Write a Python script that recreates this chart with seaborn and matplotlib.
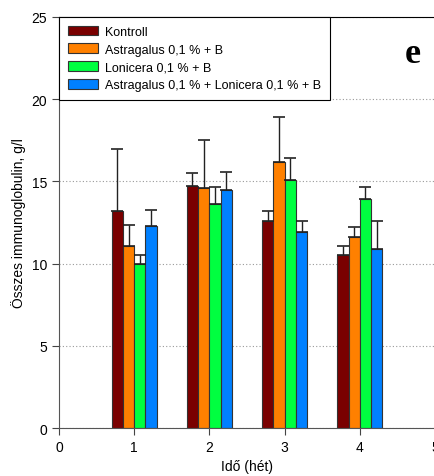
import numpy as np
import pandas as pd
import matplotlib.pyplot as plt
import seaborn as sns

# data
weeks = [1, 2, 3, 4]
groups = ['Kontroll', 'Astragalus 0,1 % + B', 'Lonicera 0,1 % + B',
          'Astragalus 0,1 % + Lonicera 0,1 % + B']
kontroll = [13.2, 14.7, 12.6, 10.5]
astragalus = [11.1, 14.6, 16.2, 11.6]
lonicera = [10.0, 13.6, 15.1, 13.9]
combo = [12.3, 14.5, 11.9, 10.9]
kontroll_err = [3.75, 0.83, 0.6, 0.6]
astragalus_err = [1.25, 2.9, 2.7, 0.63]
lonicera_err = [0.55, 1.05, 1.3, 0.77]
combo_err = [0.97, 1.05, 0.7, 1.7]
colors = ['#7a0000', '#ff8000', '#00ff40', '#0080ff']

values = [kontroll, astragalus, lonicera, combo]
errors = [kontroll_err, astragalus_err, lonicera_err, combo_err]

rows = []
for g, vals in zip(groups, values):
    for w, v in zip(weeks, vals):
        rows.append((w, g, v))
df = pd.DataFrame(rows, columns=['week', 'group', 'value'])

plt.rcParams['font.family'] = ['Liberation Sans', 'DejaVu Sans']

fig = plt.figure(figsize=(4.35, 4.77), dpi=100)
ax = fig.add_axes([0.1356, 0.1006, 0.8644, 0.8617])

sns.barplot(data=df, x='week', y='value', hue='group', hue_order=groups,
            palette=colors, native_scale=True, width=0.6, errorbar=None,
            edgecolor='#333333', linewidth=0.8, saturation=1, ax=ax, zorder=2)

# one-sided error bars
for cont, err in zip(ax.containers, errors):
    xs = [b.get_x() + b.get_width() / 2 for b in cont]
    ys = [b.get_height() for b in cont]
    ax.errorbar(xs, ys, yerr=[np.zeros(len(err)), err], fmt='none',
                ecolor='#222222', elinewidth=1.0, capsize=4, capthick=1.2,
                zorder=3)

ax.set_xlim(0, 5)
ax.set_ylim(0, 25)
ax.set_xticks([0, 1, 2, 3, 4, 5])
ax.set_yticks([0, 5, 10, 15, 20, 25])
ax.tick_params(labelsize=10, direction='out', length=5, color='#444444')
ax.yaxis.grid(True, linestyle=(0, (1, 2)), color='#999999', linewidth=0.8)
ax.set_axisbelow(True)
ax.set_xlabel('Idő (hét)', fontsize=10)
ax.set_ylabel('Összes immunoglobulin, g/l', fontsize=10)

for side in ['left', 'bottom']:
    ax.spines[side].set_color('#555555')
ax.spines['top'].set_color('black')
ax.spines['right'].set_visible(False)

leg = ax.legend(loc='upper left', borderaxespad=0, fontsize=9, frameon=True,
                fancybox=False, edgecolor='black', framealpha=1,
                handlelength=2.4, handleheight=0.8, labelspacing=0.45,
                borderpad=0.7, handletextpad=0.6)
leg.get_frame().set_linewidth(0.8)

ax.text(0.94, 0.89, 'e', transform=ax.transAxes, fontsize=26,
        fontweight='bold', family='Liberation Serif', ha='center', va='baseline')

fig.savefig('out.png', dpi=100)
